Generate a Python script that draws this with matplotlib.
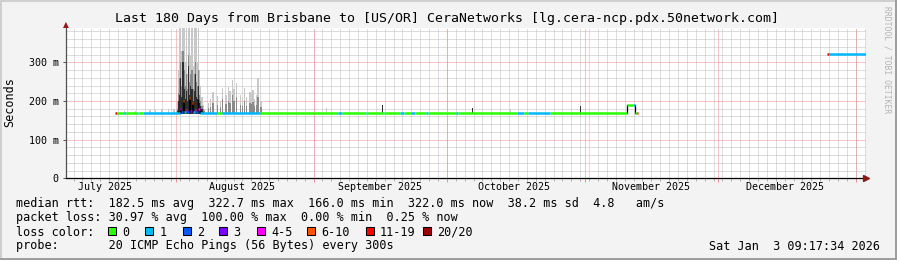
import matplotlib
matplotlib.use('Agg')
import matplotlib.pyplot as plt
import matplotlib.dates as mdates
from matplotlib.patches import Rectangle
from datetime import datetime, timedelta

W, H = 897, 260
MONO = 'DejaVu Sans Mono'

start = datetime(2025, 7, 7, 9, 17, 34)
end = start + timedelta(days=180)

# median rtt, piecewise: day offset from start, ms, loss class index
seg_from = [10.9, 11.3, 13.0, 13.3, 16.0, 16.3, 17.3, 25.2, 25.6, 25.8, 26.3, 26.5,
            27.0, 27.2, 27.6, 27.8, 28.2, 28.4, 29.0, 29.2, 29.5, 29.7, 30.0, 33.9,
            35.0, 43.6, 61.1, 62.0, 67.4, 67.7, 71.2, 71.5, 75.1, 76.0, 77.5, 78.5,
            80.8, 81.3, 87.7, 88.0, 101.4, 103.0, 103.8, 108.8, 126.1, 127.5, 128.0,
            128.4, 171.2, 171.6]
seg_to = [11.3, 13.0, 13.3, 16.0, 16.3, 17.3, 25.2, 25.6, 25.8, 26.3, 26.5, 27.0,
          27.2, 27.6, 27.8, 28.2, 28.4, 29.0, 29.2, 29.5, 29.7, 30.0, 33.9, 35.0,
          43.6, 61.1, 62.0, 67.4, 67.7, 71.2, 71.5, 75.1, 76.0, 77.5, 78.5, 80.8,
          81.3, 87.7, 88.0, 101.4, 103.0, 103.8, 108.8, 126.1, 127.5, 128.0, 128.4,
          128.7, 171.6, 180.0]
seg_rtt = [170, 170, 170, 170, 170, 170, 170, 170, 178, 172, 200, 172,
           176, 172, 207, 175, 195, 172, 176, 172, 202, 178, 170, 170,
           170, 170, 170, 170, 170, 170, 170, 170, 170, 170, 170, 170,
           170, 170, 170, 170, 170, 170, 170, 170, 190, 190, 170,
           170, 322, 322]
seg_loss = [6, 0, 1, 0, 1, 0, 1, 1, 4, 2, 5, 1,
            4, 2, 5, 3, 5, 1, 4, 2, 5, 4, 1, 0,
            1, 0, 1, 0, 1, 0, 1, 0, 1, 0, 1, 0,
            1, 0, 1, 0, 1, 0, 1, 0, 0, 1, 0,
            6, 6, 1]

# smoke (ping spread): day offset, outer top, middle-band top, dense-band top (ms, 0 = none)
smoke_day = [13.0, 15.5, 18.8, 20.0, 21.5, 23.0, 24.2, 24.7,
             25.0, 25.25, 25.5, 25.75, 26.0, 26.25, 26.5, 26.75, 27.0, 27.25,
             27.5, 27.75, 28.0, 28.25, 28.5, 28.75, 29.0, 29.25, 29.5, 29.75,
             30.0, 30.25, 30.5, 30.75, 31.0,
             31.9, 32.4, 33.0, 34.0, 34.6, 35.2, 35.9, 36.4, 36.8, 37.3, 37.7,
             38.2, 39.1, 39.6, 40.0, 40.6, 41.3, 41.7, 42.0, 42.3, 42.7, 43.1, 43.8,
             58.6, 71.2, 91.3, 100.0, 115.6]
smoke_max = [174, 175, 176, 177, 178, 178, 180, 182,
             200, 280, 388, 388, 330, 388, 388, 300, 388, 270,
             388, 388, 320, 388, 290, 388, 388, 388, 300, 388,
             280, 240, 210, 190, 180,
             195, 205, 224, 212, 200, 233, 215, 237, 225, 254, 230,
             246, 215, 208, 233, 210, 223, 218, 228, 205, 215, 259, 200,
             182, 190, 182, 178, 187]
smoke_mid = [0, 0, 0, 0, 0, 0, 0, 0,
             180, 220, 260, 300, 240, 330, 280, 240, 270, 230,
             320, 250, 270, 280, 230, 270, 300, 250, 240, 280,
             215, 200, 188, 178, 173,
             182, 185, 195, 190, 185, 205, 192, 200, 195, 215, 200,
             210, 190, 188, 200, 188, 195, 192, 198, 186, 190, 210, 185,
             0, 0, 0, 0, 0]
smoke_dark = [0, 0, 0, 0, 0, 0, 0, 0,
              174, 200, 215, 260, 210, 300, 230, 205, 225, 200,
              290, 215, 240, 230, 200, 225, 270, 210, 205, 240,
              195, 188, 178, 172, 170,
              0, 0, 0, 0, 0, 0, 0, 0, 0, 0, 0,
              0, 0, 0, 0, 0, 0, 0, 0, 0, 0, 0, 0,
              0, 190, 182, 0, 187]
smoke_min = 167

loss_colors = ['#26ff00', '#00b8ff', '#0059ff', '#7e00ff', '#ff00ff', '#ff5500', '#ff0000', '#a10000']
loss_labels = ['0', '1', '2', '3', '4-5', '6-10', '11-19', '20/20']
months = ['July 2025', 'August 2025', 'September 2025', 'October 2025',
          'November 2025', 'December 2025']


def d2n(d):
    return mdates.date2num(start + timedelta(days=d))


def fx(px):
    return px / W


def fy(py):
    return 1 - py / H


fig = plt.figure(figsize=(W / 100, H / 100), dpi=100, facecolor='#f3f3f3')
ax = fig.add_axes([fx(66.4), fy(178.3), 800 / W, 150 / H])
ax.set_facecolor('white')

# grid
x0 = mdates.date2num(start)
x1 = mdates.date2num(end)
anchor = datetime(2025, 9, 1)
minor_x = [mdates.date2num(anchor + timedelta(days=2 * k)) for k in range(-40, 70)]
minor_x = [v for v in minor_x if x0 < v < x1]
major_x = [mdates.date2num(datetime(2025, m, 1)) for m in range(8, 13)] + \
          [mdates.date2num(datetime(2026, 1, 1))]
grid_kw = dict(lw=0.72, ls=(0, (1, 1)), snap=True)
for v in minor_x:
    ax.axvline(v, color='#bcbcbc', zorder=0, **grid_kw)
for v in range(20, 388, 20):
    if v % 100:
        ax.axhline(v, color='#bcbcbc', zorder=0, **grid_kw)
for v in major_x:
    ax.axvline(v, color='#f08c8c', zorder=0.5, **grid_kw)
for v in (100, 200, 300):
    ax.axhline(v, color='#f08c8c', zorder=0.5, **grid_kw)

# smoke
sx = [d2n(d) for d in smoke_day]
for vals, col, wd, z in [(smoke_max, '#c8c8c8', 0.26, 2), (smoke_mid, '#8a8a8a', 0.26, 2.2),
                         (smoke_dark, '#2e2e2e', 0.26, 2.4)]:
    pts = [(x, v) for x, v in zip(sx, vals) if v > smoke_min]
    ax.bar([x for x, v in pts], [v - smoke_min for x, v in pts], bottom=smoke_min,
           width=wd, color=col, linewidth=0, zorder=z)

# median line
for i in range(len(seg_from)):
    ax.plot([d2n(seg_from[i]), d2n(seg_to[i])], [seg_rtt[i], seg_rtt[i]],
            color=loss_colors[seg_loss[i]], lw=1.8, solid_capstyle='butt', zorder=4)
    if i > 0 and seg_from[i] == seg_to[i - 1] and abs(seg_rtt[i] - seg_rtt[i - 1]) > 4:
        ax.plot([d2n(seg_from[i])] * 2, [seg_rtt[i - 1], seg_rtt[i]],
                color='black', lw=0.9, zorder=3.5)

ax.set_xlim(x0, x1)
ax.set_ylim(0, 388)
for s in ('top', 'right'):
    ax.spines[s].set_visible(False)
ax.spines['left'].set_color('#505050')
ax.spines['left'].set_linewidth(0.9)
ax.spines['bottom'].set_color('black')
ax.spines['bottom'].set_linewidth(0.9)
ax.spines['left'].set_zorder(5)
ax.spines['bottom'].set_zorder(5)

ax.set_xticks(major_x)
ax.set_xticks(minor_x, minor=True)
ax.set_xticklabels([])
ax.tick_params(axis='x', which='major', length=3, width=0.7, color='#f08c8c')
ax.tick_params(axis='x', which='minor', length=2, width=0.7, color='#b0b0b0')
ax.set_yticks([0, 100, 200, 300])
ax.set_yticklabels(['0', '100 m', '200 m', '300 m'], fontfamily=MONO, fontsize=7.2)
ax.tick_params(axis='y', length=2.5, width=0.7, pad=3, color='#505050')
ax.set_yticks(range(20, 388, 20), minor=True)
ax.tick_params(axis='y', which='minor', length=0)

# arrows
ax.plot([x1], [0], marker='>', color='#8b1a1a', ms=4.5, clip_on=False, zorder=6)
fig.text(fx(66.4), fy(24.5), '\u25b2', color='#8b1a1a', fontsize=5.5,
         ha='center', va='center')

# month labels
for i, name in enumerate(months):
    ax.text(mdates.date2num(datetime(2025, 7 + i, 16)), -0.06, name,
            transform=ax.get_xaxis_transform(), ha='center', va='center',
            fontfamily=MONO, fontsize=7.2)

# texts
fig.text(fx(447), fy(18.5),
         'Last 180 Days from Brisbane to [US/OR] CeraNetworks [lg.cera-ncp.pdx.50network.com]',
         ha='center', va='center', fontfamily=MONO, fontsize=9.55)
fig.text(fx(10), fy(102.5), 'Seconds', rotation=90, ha='center', va='center',
         fontfamily=MONO, fontsize=8.5)
fig.text(fx(887), fy(60), 'RRDTOOL / TOBI OETIKER', rotation=270, ha='center',
         va='center', fontfamily=MONO, fontsize=5.8, color='#b4b4b4')

lines = [
    'median rtt:  182.5 ms avg  322.7 ms max  166.0 ms min  322.0 ms now  38.2 ms sd  4.8   am/s',
    'packet loss: 30.97 % avg  100.00 % max  0.00 % min  0.25 % now',
    'loss color:',
    'probe:       20 ICMP Echo Pings (56 Bytes) every 300s',
]
for k, t in enumerate(lines):
    fig.text(fx(16), fy(204 + 14 * k), t, ha='left', va='center',
             fontfamily=MONO, fontsize=8.5)
fig.text(fx(880), fy(246), 'Sat Jan  3 09:17:34 2026', ha='right', va='center',
         fontfamily=MONO, fontsize=8.5)

box_x = [108.3, 145.3, 182.7, 219.3, 256.7, 307, 365.7, 422.7]
for bx, col, lab in zip(box_x, loss_colors, loss_labels):
    fig.patches.append(Rectangle((fx(bx), fy(235)), 8 / W, 8 / H,
                                 transform=fig.transFigure, facecolor=col,
                                 edgecolor='black', lw=0.75))
    fig.text(fx(bx + 14.3), fy(232), lab, ha='left', va='center',
             fontfamily=MONO, fontsize=8.5)

# 3d frame
for (px, py, w, h, c) in [(0, 0, W, 2, '#cfcfcf'), (0, 0, 2, H, '#cfcfcf'),
                          (0, H - 2, W, 2, '#9e9e9e'), (W - 2, 0, 2, H, '#9e9e9e')]:
    fig.patches.append(Rectangle((fx(px), fy(py + h)), w / W, h / H,
                                 transform=fig.transFigure, facecolor=c,
                                 edgecolor='none'))

fig.savefig('out.png', dpi=100, facecolor=fig.get_facecolor())
